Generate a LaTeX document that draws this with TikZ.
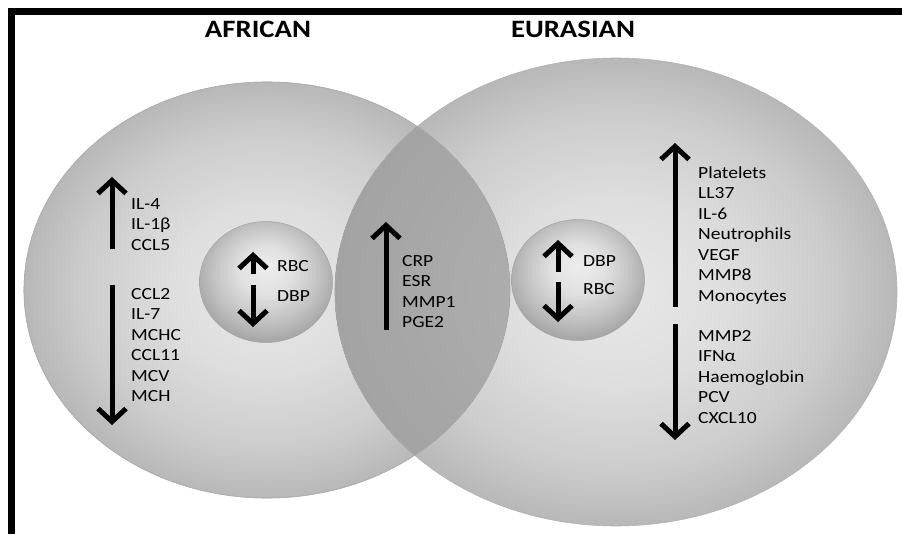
\documentclass[tikz,border=0pt]{standalone}
\usepackage{fontspec}
\setmainfont{Carlito}[FakeStretch=1.15]
\usetikzlibrary{positioning, shapes.geometric, arrows.meta}

\pgfdeclareradialshading{venn}{\pgfpoint{0bp}{0bp}}{color(0bp)=(black!9); color(10bp)=(black!13); color(19bp)=(black!20); color(25bp)=(black!28); color(50bp)=(black!28)}
\pgfdeclareradialshading{lens}{\pgfpoint{0bp}{0bp}}{color(0bp)=(black!30); color(25bp)=(black!36); color(50bp)=(black!36)}
\pgfdeclareradialshading{bubble}{\pgfpoint{0bp}{6bp}}{color(0bp)=(black!7); color(10bp)=(black!12); color(20bp)=(black!24); color(28bp)=(black!36); color(50bp)=(black!36)}

\begin{document}
\begin{tikzpicture}[x=1pt, y=-1pt, >={Straight Barb[length=13pt, width=28pt]},
			venn/.style={ellipse, inner sep=0pt, shade, shading=venn, draw=black!30, line width=0.6pt},
			ball/.style={ellipse, inner sep=0pt, shade, shading=bubble, draw=black!36, line width=0.5pt,
				minimum width=133pt, minimum height=121pt},
			lst/.style={anchor=north west, inner sep=0pt, align=left, font=\fontsize{17}{20.5}\selectfont},
			title/.style={anchor=base, inner sep=0pt, font=\fontsize{25}{30}\selectfont\bfseries},
			arr/.style={->, line width=5pt} ]
			\useasboundingbox (0,0) rectangle (902,534);
			
			% frame (top and left only)
			\draw[line width=7pt] (902,12) -- (11.5,12) -- (11.5,534);
			
			\node[title] (afr) at (258,38) {AFRICAN};
			\node[title] (eur) at (573,38) {EURASIAN};
			
			%Circulos:
			\node[venn, minimum width=486pt, minimum height=416pt] (africa)  at (267,290) {};
			\node[venn, minimum width=562pt, minimum height=468pt] (eurasia) at (616,292) {};
			\begin{scope}
				\clip (africa.center) ellipse [x radius=243pt, y radius=208pt];
				\fill[shade, shading=lens] (eurasia.center) ellipse [x radius=281pt, y radius=234pt];
				\draw[black!32, line width=0.6pt] (eurasia.center) ellipse [x radius=281pt, y radius=234pt];
			\end{scope}
			\draw[black!32, line width=0.6pt] (africa.center) ellipse [x radius=243pt, y radius=208pt];
			
			\node[ball] (afball) at (266,282) {};
			\node[ball] (euball) at (578,280) {};
			
			%Listas:
			\node[lst] (afup)   at (131,198) {IL-4\\IL-1β\\CCL5};
			\node[lst] (afdown) at (131,288) {CCL2\\IL-7\\MCHC\\CCL11\\MCV\\MCH};
			\node[lst] (both)   at (402,255) {CRP\\ESR\\MMP1\\PGE2};
			\node[lst] (euup)   at (698,166) {Platelets\\LL37\\IL-6\\Neutrophils\\VEGF\\MMP8\\Monocytes};
			\node[lst] (eudown) at (698,330) {MMP2\\IFNα\\Haemoglobin\\PCV\\CXCL10};
			\node[lst] (afrbc)  at (277,260) {RBC};
			\node[lst] (afdbp)  at (277,290) {DBP};
			\node[lst] (eudbp)  at (583,255) {DBP};
			\node[lst] (eurbc)  at (583,283) {RBC};
			
			%Setas:
			\draw[arr] (112,249) -- (112,177);
			\draw[arr] (112,285) -- (112,425);
			\draw[arr] (253,274) -- (253,252);
			\draw[arr] (253,285) -- (253,327);
			\draw[arr] (386,330) -- (386,222);
			\draw[arr] (558,272) -- (558,240);
			\draw[arr] (558,282) -- (558,322);
			\draw[arr] (675,307) -- (675,143);
			\draw[arr] (675,324) -- (675,440);
		\end{tikzpicture}
\end{document}
